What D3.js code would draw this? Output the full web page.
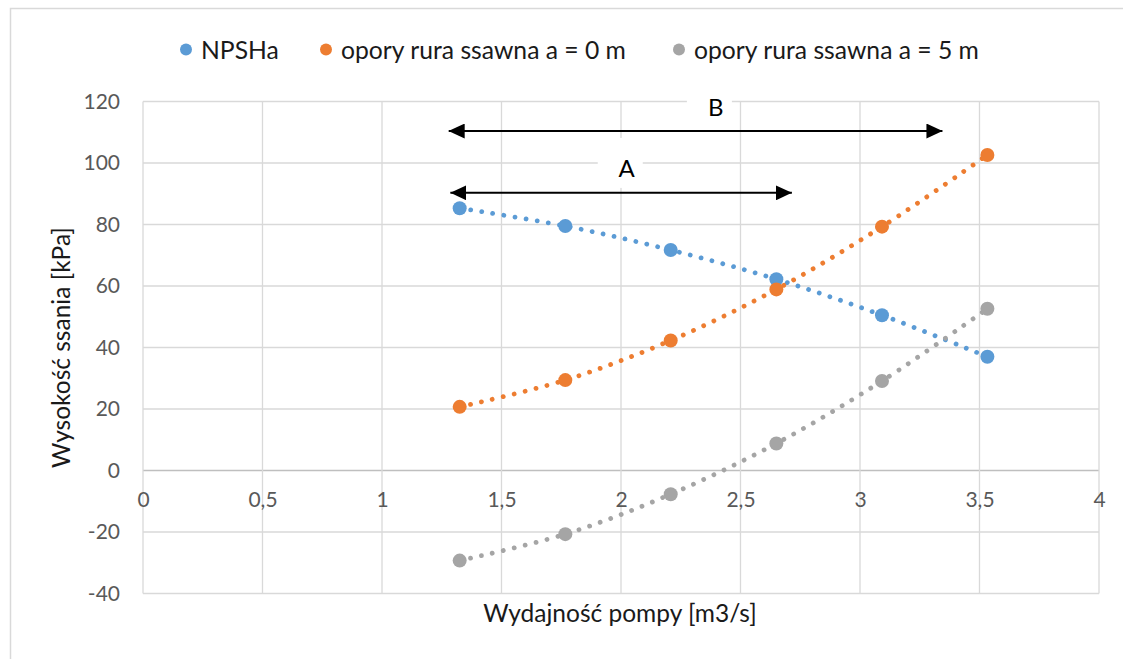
<!DOCTYPE html>
<html>
<head>
<meta charset="utf-8">
<script src="https://cdn.jsdelivr.net/npm/d3@7"></script>
<style>
  body { margin: 0; background: #fff; }
  text { font-family: Lato, "Open Sans", sans-serif; }
</style>
</head>
<body>
<svg id="chart" width="1123" height="659"></svg>
<script>
// data
var wydajnosc = [1.325, 1.767, 2.208, 2.65, 3.092, 3.533];
var npsha = [85.3, 79.5, 71.7, 62.2, 50.5, 37.0];
var oporyA0 = [20.7, 29.4, 42.3, 58.9, 79.3, 102.6];
var oporyA5 = [-29.3, -20.7, -7.7, 8.8, 29.1, 52.6];
var seriesNames = ["NPSHa", "opory rura ssawna a = 0 m", "opory rura ssawna a = 5 m"];
var seriesColors = ["#5b9bd5", "#ed7d31", "#a5a5a5"];
var xTicks = [0, 0.5, 1, 1.5, 2, 2.5, 3, 3.5, 4];
var yTicks = [-40, -20, 0, 20, 40, 60, 80, 100, 120];

// annotation arrows (in data units) and their labels
var arrowNames = ["B", "A"];
var arrowFrom = [1.279, 1.286];
var arrowTo = [3.345, 2.715];
var arrowLevel = [110.4, 90.3];
var labelX = [2.397, 2.024];
var labelY = [118.3, 98.4];

var svg = d3.select("#chart");
var W = 1123, H = 659;

// chart frame
svg.append("rect")
  .attr("x", 10.5).attr("y", 8.5)
  .attr("width", W + 10).attr("height", H + 10)
  .attr("fill", "#fff").attr("stroke", "#d9d9d9").attr("stroke-width", 1.5);

var plot = {left: 143, right: 1099, top: 101.5, bottom: 593.5};

var x = d3.scaleLinear().domain([0, 4]).range([plot.left, plot.right]);
var y = d3.scaleLinear().domain([-40, 120]).range([plot.bottom, plot.top]);

// gridlines
var grid = svg.append("g");
grid.selectAll("line.h")
  .data(yTicks)
  .enter().append("line")
    .attr("x1", plot.left).attr("x2", plot.right)
    .attr("y1", function(d) { return y(d); })
    .attr("y2", function(d) { return y(d); })
    .attr("stroke", function(d) { return d === 0 ? "#bfbfbf" : "#d9d9d9"; })
    .attr("stroke-width", function(d) { return d === 0 ? 1.6 : 1.3; });
grid.selectAll("line.v")
  .data(xTicks)
  .enter().append("line")
    .attr("y1", plot.top).attr("y2", plot.bottom)
    .attr("x1", function(d) { return x(d); })
    .attr("x2", function(d) { return x(d); })
    .attr("stroke", "#d9d9d9")
    .attr("stroke-width", 1.3);

// axes (labels only), Polish decimal comma and plain hyphen
var fmt = function(d) { return String(d).replace(".", ","); };

var yAxis = svg.append("g")
  .attr("transform", "translate(" + (plot.left - 23) + ",0)")
  .call(d3.axisLeft(y).tickValues(yTicks).tickFormat(fmt).tickSize(0).tickPadding(0));
yAxis.select(".domain").remove();
yAxis.selectAll("text")
  .attr("font-family", "Lato")
  .attr("font-size", 21)
  .attr("fill", "#595959");

var xAxis = svg.append("g")
  .attr("transform", "translate(0," + y(0) + ")")
  .call(d3.axisBottom(x).tickValues(xTicks).tickFormat(fmt).tickSize(0).tickPadding(22));
xAxis.select(".domain").remove();
xAxis.selectAll("text")
  .attr("font-family", "Lato")
  .attr("font-size", 21)
  .attr("fill", "#595959");

// axis titles
svg.append("text")
  .attr("x", 620)
  .attr("y", 622)
  .attr("text-anchor", "middle")
  .attr("font-size", 24.5)
  .attr("fill", "#1a1a1a")
  .text("Wydajność pompy [m3/s]");

svg.append("text")
  .attr("transform", "translate(70," + ((plot.top + plot.bottom) / 2) + ") rotate(-90)")
  .attr("text-anchor", "middle")
  .attr("font-size", 24.5)
  .attr("fill", "#1a1a1a")
  .text("Wysokość ssania [kPa]");

// white boxes behind A / B labels
var labels = svg.append("g");
labels.selectAll("rect")
  .data(arrowNames)
  .enter().append("rect")
    .attr("x", function(d, i) { return x(labelX[i]) - 29; })
    .attr("y", function(d, i) { return y(labelY[i]) - 30; })
    .attr("width", 45)
    .attr("height", 50)
    .attr("fill", "#fff");
labels.selectAll("text")
  .data(arrowNames)
  .enter().append("text")
    .attr("x", function(d, i) { return x(labelX[i]); })
    .attr("y", function(d, i) { return y(labelY[i]); })
    .attr("text-anchor", "middle")
    .attr("dominant-baseline", "central")
    .attr("font-size", 24)
    .attr("fill", "#000")
    .text(function(d) { return d; });

// series
var allSeries = [npsha, oporyA0, oporyA5];
var line = d3.line()
  .x(function(d, i) { return x(wydajnosc[i]); })
  .y(function(d) { return y(d); })
  .curve(d3.curveCatmullRom.alpha(0.5));

allSeries.forEach(function(vals, s) {
  svg.append("path")
    .datum(vals)
    .attr("d", line)
    .attr("fill", "none")
    .attr("stroke", seriesColors[s])
    .attr("stroke-width", 4.8)
    .attr("stroke-linecap", "round")
    .attr("stroke-dasharray", "0.01 11.2");
});
allSeries.forEach(function(vals, s) {
  svg.append("g").selectAll("circle")
    .data(vals)
    .enter().append("circle")
      .attr("cx", function(d, i) { return x(wydajnosc[i]); })
      .attr("cy", function(d) { return y(d); })
      .attr("r", 7)
      .attr("fill", seriesColors[s]);
});

// arrows
var defs = svg.append("defs");
defs.append("marker")
  .attr("id", "head")
  .attr("viewBox", "0 0 16 15")
  .attr("refX", 16).attr("refY", 7.5)
  .attr("markerUnits", "userSpaceOnUse")
  .attr("markerWidth", 16).attr("markerHeight", 15)
  .attr("orient", "auto-start-reverse")
  .append("path")
    .attr("d", "M0,0 L16,7.5 L0,15 Z")
    .attr("fill", "#000");

svg.append("g").selectAll("line")
  .data(arrowNames)
  .enter().append("line")
    .attr("x1", function(d, i) { return x(arrowFrom[i]); })
    .attr("x2", function(d, i) { return x(arrowTo[i]); })
    .attr("y1", function(d, i) { return y(arrowLevel[i]); })
    .attr("y2", function(d, i) { return y(arrowLevel[i]); })
    .attr("stroke", "#000")
    .attr("stroke-width", 2)
    .attr("marker-start", "url(#head)")
    .attr("marker-end", "url(#head)");

// legend
var legendX = [186, 326, 679];
var legend = svg.append("g");
seriesNames.forEach(function(name, i) {
  legend.append("circle")
    .attr("cx", legendX[i]).attr("cy", 49.5)
    .attr("r", 6)
    .attr("fill", seriesColors[i]);
  legend.append("text")
    .attr("x", legendX[i] + 15)
    .attr("y", 49.5)
    .attr("dominant-baseline", "central")
    .attr("font-size", 24.7)
    .attr("fill", "#1a1a1a")
    .text(name);
});
</script>
</body>
</html>
